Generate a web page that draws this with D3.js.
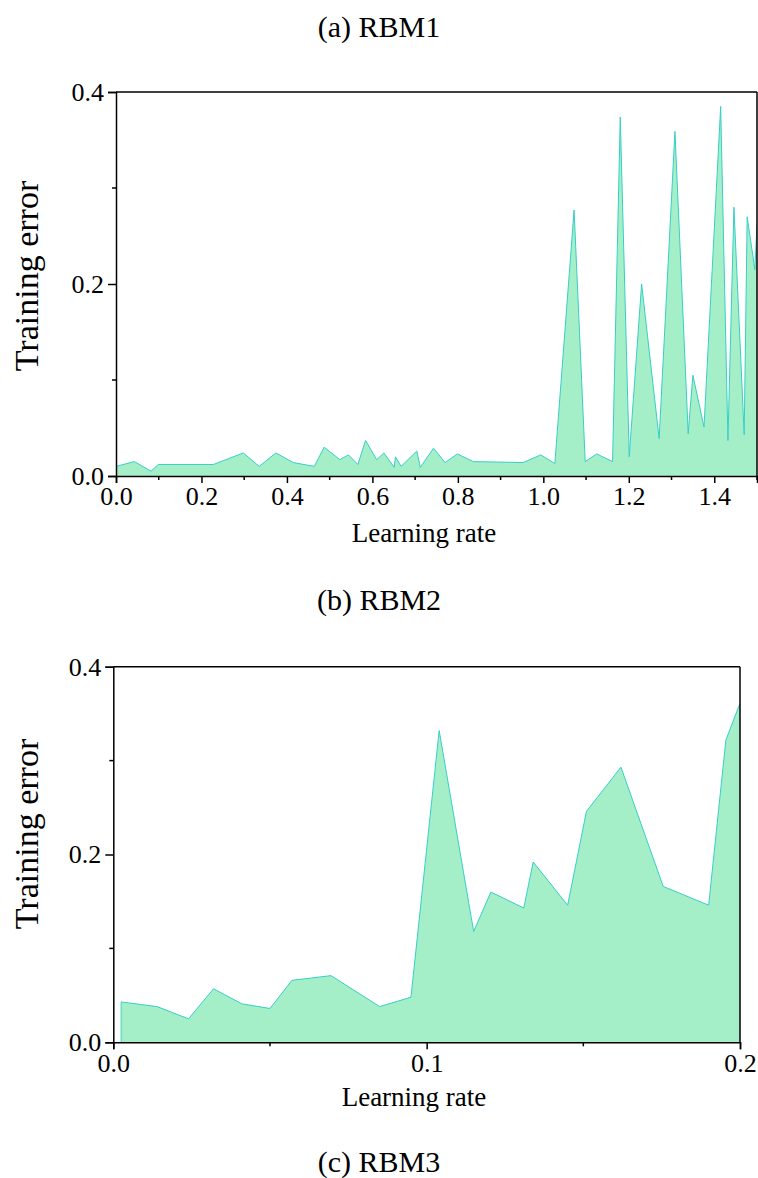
<!DOCTYPE html>
<html>
<head>
<meta charset="utf-8">
<script src="https://cdn.jsdelivr.net/npm/d3@7"></script>
<style>
  html, body { margin: 0; padding: 0; background: #fff; }
  svg text { font-family: "Liberation Serif", "Times New Roman", Times, serif; fill: #000; }
</style>
</head>
<body>
<svg id="fig" width="758" height="1178"></svg>
<script>
// RBM1: learning rate sweep 0 – 1.5
const rbm1Rate = [0.000, 0.043, 0.082, 0.099, 0.228, 0.298, 0.335, 0.374, 0.415, 0.464,
                  0.487, 0.524, 0.544, 0.566, 0.584, 0.610, 0.627, 0.651, 0.654, 0.667,
                  0.704, 0.712, 0.743, 0.770, 0.799, 0.836, 0.953, 0.994, 1.027, 1.072,
                  1.098, 1.125, 1.162, 1.180, 1.201, 1.230, 1.271, 1.308, 1.339, 1.350,
                  1.376, 1.415, 1.432, 1.446, 1.470, 1.477, 1.495, 1.500];
const rbm1Error = [0.010, 0.015, 0.005, 0.012, 0.012, 0.024, 0.010, 0.024, 0.014, 0.010,
                   0.030, 0.017, 0.022, 0.012, 0.037, 0.017, 0.024, 0.009, 0.020, 0.010,
                   0.026, 0.009, 0.029, 0.014, 0.023, 0.015, 0.014, 0.022, 0.013, 0.277,
                   0.015, 0.023, 0.015, 0.374, 0.020, 0.200, 0.039, 0.359, 0.044, 0.105,
                   0.051, 0.385, 0.037, 0.280, 0.043, 0.270, 0.215, 0.263];

// RBM3: learning rate sweep 0 – 0.2
const rbm3Rate = [0.0025, 0.014, 0.024, 0.032, 0.041, 0.050, 0.057, 0.0695, 0.085, 0.095,
                  0.104, 0.115, 0.1205, 0.131, 0.134, 0.145, 0.151, 0.162, 0.1755, 0.190,
                  0.1955, 0.200];
const rbm3Error = [0.043, 0.038, 0.025, 0.057, 0.041, 0.036, 0.066, 0.071, 0.038, 0.048,
                   0.332, 0.118, 0.160, 0.143, 0.192, 0.146, 0.246, 0.293, 0.166, 0.146,
                   0.322, 0.361];

const ticks1X = [0.0, 0.2, 0.4, 0.6, 0.8, 1.0, 1.2, 1.4];
const minor1X = [0.1, 0.3, 0.5, 0.7, 0.9, 1.1, 1.3, 1.5];
const ticks3X = [0.0, 0.1, 0.2];
const minor3X = [0.05, 0.15];
const ticksY = [0.0, 0.2, 0.4];
const minorY = [0.1, 0.3];

const FILL = "#a5efc8";
const STROKE = "#36cfc6";
const SERIF = '"Liberation Serif", "Times New Roman", Times, serif';
const svg = d3.select("#fig");

function panel(cfg) {
  const { left, right, top, bottom, xDomain, rate, err, majorX, minorXs, xFmt, xLabelPos, yLabelPos, id } = cfg;
  const x = d3.scaleLinear().domain(xDomain).range([left, right]);
  const y = d3.scaleLinear().domain([0, 0.4]).range([bottom, top]);
  const g = svg.append("g");

  g.append("clipPath").attr("id", id).append("rect")
    .attr("x", left).attr("y", top).attr("width", right - left).attr("height", bottom - top);

  const pts = rate.map((r, i) => [r, err[i]]);
  const area = d3.area().x(d => x(d[0])).y0(y(0)).y1(d => y(d[1]));
  const line = d3.line().x(d => x(d[0])).y(d => y(d[1]));

  const plot = g.append("g").attr("clip-path", `url(#${id})`);
  plot.append("path").datum(pts).attr("d", area).attr("fill", FILL);
  const outline = [[rate[0], 0], ...pts];
  plot.append("path").datum(outline).attr("d", line)
    .attr("fill", "none").attr("stroke", STROKE).attr("stroke-width", 1);

  // frame lines (top and right)
  g.append("line").attr("x1", left).attr("x2", right).attr("y1", top).attr("y2", top)
    .attr("stroke", "#000").attr("stroke-width", 1.5);
  g.append("line").attr("x1", right).attr("x2", right).attr("y1", top).attr("y2", bottom)
    .attr("stroke", "#000").attr("stroke-width", 1.5);

  // x axis
  const xAxis = d3.axisBottom(x).tickValues(majorX).tickFormat(xFmt).tickSize(7).tickPadding(4);
  const gx = g.append("g").attr("transform", `translate(0,${bottom})`).call(xAxis);
  gx.append("g").selectAll("line").data(minorXs).join("line")
    .attr("x1", d => x(d)).attr("x2", d => x(d)).attr("y1", 0).attr("y2", 4)
    .attr("stroke", "#000").attr("stroke-width", 1.5);

  // y axis
  const yAxis = d3.axisLeft(y).tickValues(ticksY).tickFormat(d3.format(".1f")).tickSize(8).tickPadding(4);
  const gy = g.append("g").attr("transform", `translate(${left},0)`).call(yAxis);
  gy.append("g").selectAll("line").data(minorY).join("line")
    .attr("x1", 0).attr("x2", -4).attr("y1", d => y(d)).attr("y2", d => y(d))
    .attr("stroke", "#000").attr("stroke-width", 1.5);

  [gx, gy].forEach(a => {
    a.attr("font-family", SERIF).attr("font-size", 26);
    a.select(".domain").attr("stroke", "#000").attr("stroke-width", 1.5);
    a.selectAll(".tick line").attr("stroke", "#000").attr("stroke-width", 1.5);
    a.selectAll(".tick text").style("font-family", SERIF).style("font-size", "26px").attr("fill", "#000");
  });

  g.append("text").attr("x", xLabelPos[0]).attr("y", xLabelPos[1])
    .attr("text-anchor", "middle").style("font-family", SERIF).style("font-size", "27px").text("Learning rate");
  g.append("text")
    .attr("transform", `translate(${yLabelPos[0]},${yLabelPos[1]}) rotate(-90)`)
    .attr("text-anchor", "middle").style("font-family", SERIF).style("font-size", "34px").text("Training error");
}

panel({
  id: "clip1", left: 116, right: 757, top: 92, bottom: 476,
  xDomain: [0, 1.5], rate: rbm1Rate, err: rbm1Error,
  majorX: ticks1X, minorXs: minor1X, xFmt: d3.format(".1f"),
  xLabelPos: [424, 542], yLabelPos: [38, 276]
});

panel({
  id: "clip3", left: 113.3, right: 740, top: 666.7, bottom: 1042.3,
  xDomain: [0, 0.2], rate: rbm3Rate, err: rbm3Error,
  majorX: ticks3X, minorXs: minor3X, xFmt: d3.format(".1f"),
  xLabelPos: [414, 1106], yLabelPos: [38, 834]
});

// panel captions
const captions = [["(a) RBM1", 37], ["(b) RBM2", 610], ["(c) RBM3", 1172]];
svg.selectAll("text.caption").data(captions).join("text")
  .attr("class", "caption")
  .attr("x", 379).attr("y", d => d[1])
  .attr("text-anchor", "middle").style("font-family", SERIF).style("font-size", "30px")
  .text(d => d[0]);
</script>
</body>
</html>
